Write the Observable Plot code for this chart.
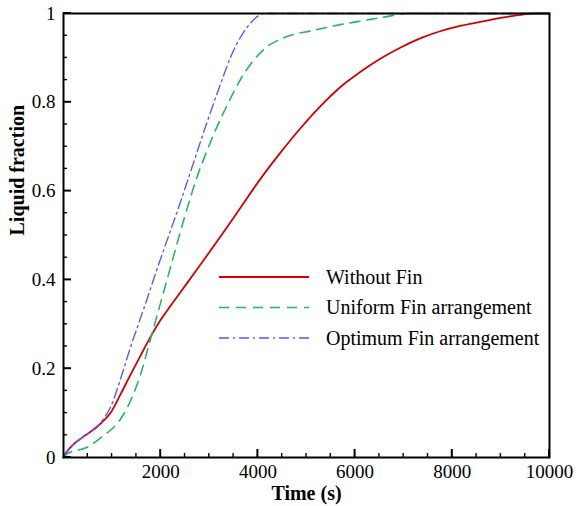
<!DOCTYPE html>
<html>
<head>
<meta charset="utf-8">
<script src="https://cdn.jsdelivr.net/npm/d3@7"></script>
<script src="https://cdn.jsdelivr.net/npm/@observablehq/plot@0.6"></script>
<style>
  html, body { margin: 0; padding: 0; background: #fff; }
  #chart { position: relative; width: 576px; height: 506px; }
  #chart svg { position: absolute; left: 0; top: 0; }
</style>
</head>
<body>
<div id="chart"></div>
<script>
// Melting progress: liquid fraction versus time for three fin configurations
const seriesNames = ["Without Fin", "Uniform Fin arrangement", "Optimum Fin arrangement"];

const timeWithoutFin = [0, 50, 144, 349, 555, 760, 966, 1172, 1377, 1583, 1788, 1994, 2200, 2405, 2816, 3227, 3638, 4049, 4460, 4871, 5283, 5694, 6105, 6516, 6927, 7338, 7749, 8160, 8571, 9000, 9394, 9700, 10000];
const fracWithoutFin = [0, 0.01, 0.023, 0.042, 0.058, 0.076, 0.1, 0.142, 0.186, 0.229, 0.271, 0.309, 0.341, 0.372, 0.434, 0.497, 0.562, 0.627, 0.686, 0.741, 0.791, 0.834, 0.868, 0.898, 0.923, 0.944, 0.96, 0.972, 0.981, 0.99, 0.997, 1, 1];

const timeUniform = [0, 75, 487, 829, 1035, 1240, 1412, 1583, 1754, 1926, 2063, 2302, 2474, 2631, 2748, 2885, 3091, 3433, 3650, 3844, 4020, 4186, 4400, 4597, 5145, 5694, 6173, 6654, 7064, 10000];
const fracUniform = [0, 0.008, 0.023, 0.05, 0.068, 0.098, 0.136, 0.186, 0.252, 0.32, 0.374, 0.468, 0.535, 0.592, 0.632, 0.672, 0.728, 0.808, 0.853, 0.885, 0.908, 0.925, 0.939, 0.948, 0.962, 0.975, 0.984, 0.993, 1, 1];

const timeOptimum = [0, 144, 349, 555, 692, 760, 966, 1206, 1377, 1549, 1686, 1926, 2166, 2405, 2679, 2953, 3227, 3450, 3673, 3878, 4000, 4117, 10000];
const fracOptimum = [0, 0.023, 0.042, 0.058, 0.068, 0.078, 0.113, 0.188, 0.248, 0.303, 0.346, 0.425, 0.5, 0.575, 0.665, 0.755, 0.84, 0.905, 0.952, 0.982, 0.994, 1, 1];

const xMajorTicks = [2000, 4000, 6000, 8000, 10000];
const xMinorTicks = d3.range(500, 10000, 500).filter(t => t % 2000 !== 0);
const yMajorTicks = [0, 0.2, 0.4, 0.6, 0.8, 1];
const yMinorTicks = d3.range(1, 20).filter(i => i % 4 !== 0).map(i => i / 20);

const colors = ["#d40000", "#27b56a", "#5a5aff"];
const dashes = [null, "10,7", "10,4,2,4"];
const widths = [1.8, 1.6, 1.4];

const rows = (ts, fs) => ts.map((t, i) => ({t, f: fs[i]}));
const series = [
  rows(timeWithoutFin, fracWithoutFin),
  rows(timeUniform, fracUniform),
  rows(timeOptimum, fracOptimum)
];

const font = "'Liberation Serif', 'Times New Roman', serif";
const W = 576, H = 506;
const mL = 63, mR = 27, mT = 13, mB = 49;
const majorLen = 8, minorLen = 4;

const chart = Plot.plot({
  width: W,
  height: H,
  marginLeft: mL,
  marginRight: mR,
  marginTop: mT,
  marginBottom: mB,
  style: {fontFamily: font, fontSize: "19px", color: "#000", background: "#fff", overflow: "visible"},
  x: {domain: [0, 10000]},
  y: {domain: [0, 1]},
  marks: [
    // curves
    ...series.map((data, i) => Plot.line(data, {
      x: "t", y: "f", curve: "monotone-x",
      stroke: colors[i], strokeWidth: widths[i], strokeDasharray: dashes[i]
    })),
    // tick labels
    Plot.axisX({ticks: xMajorTicks, tickSize: 0, tickPadding: 7, tickFormat: d => String(d), label: null}),
    Plot.axisY({ticks: yMajorTicks, tickSize: 0, tickPadding: 8, tickFormat: d => String(d), label: null}),
    // axis titles
    Plot.text(["Time (s)"], {frameAnchor: "bottom", dy: 36, lineAnchor: "middle", fontWeight: "bold", fontSize: 20}),
    Plot.text(["Liquid fraction"], {frameAnchor: "left", dx: -46, rotate: -90, lineAnchor: "middle", fontWeight: "bold", fontSize: 20}),
    Plot.frame({stroke: "#000", strokeWidth: 2})
  ]
});

const container = document.getElementById("chart");
container.appendChild(chart);

// overlay layer: inward ticks placed with the plot's own scale domains/ranges, and the legend
const xDesc = chart.scale("x"), yDesc = chart.scale("y");
const sx = d3.scaleLinear().domain(xDesc.domain).range(xDesc.range);
const sy = d3.scaleLinear().domain(yDesc.domain).range(yDesc.range);
const bottomY = sy(0), leftX = sx(0);

const overlay = d3.select(container).append("svg")
  .attr("width", W).attr("height", H)
  .style("pointer-events", "none");

const tickGroup = overlay.append("g").attr("stroke", "#000").attr("fill", "none");
const drawTicks = (vals, len, sw, axis) => {
  vals.forEach(v => {
    const line = tickGroup.append("line").attr("stroke-width", sw);
    if (axis === "x") {
      const x = sx(v);
      line.attr("x1", x).attr("x2", x).attr("y1", bottomY).attr("y2", bottomY - len);
    } else {
      const y = sy(v);
      line.attr("x1", leftX).attr("x2", leftX + len).attr("y1", y).attr("y2", y);
    }
  });
};
drawTicks(xMinorTicks, minorLen, 1.4, "x");
drawTicks(xMajorTicks, majorLen, 2, "x");
drawTicks(yMinorTicks, minorLen, 1.4, "y");
drawTicks(yMajorTicks, majorLen, 2, "y");

const lx0 = 219, lx1 = 309, ltx = 326, ly0 = 277, lstep = 30.5;
seriesNames.forEach((name, i) => {
  const y = ly0 + i * lstep;
  overlay.append("line")
    .attr("x1", lx0).attr("x2", lx1).attr("y1", y).attr("y2", y)
    .attr("stroke", colors[i]).attr("stroke-width", widths[i])
    .attr("stroke-dasharray", dashes[i]);
  overlay.append("text")
    .attr("x", ltx).attr("y", y + 6.5)
    .attr("font-family", font).attr("font-size", 20)
    .attr("fill", "#000")
    .text(name);
});
</script>
</body>
</html>
